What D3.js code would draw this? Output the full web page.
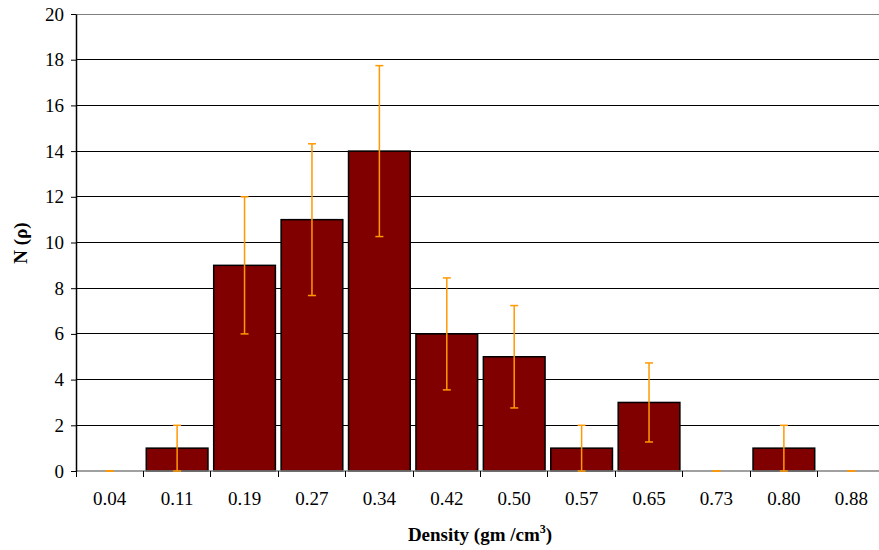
<!DOCTYPE html>
<html><head><meta charset="utf-8">
<script src="https://cdn.jsdelivr.net/npm/d3@7"></script>
<style>body{margin:0;background:#fff}svg{display:block}</style>
</head><body>
<svg id="c" width="879" height="550"></svg>
<script>
const categories = ["0.04","0.11","0.19","0.27","0.34","0.42","0.50","0.57","0.65","0.73","0.80","0.88"];
const counts = [0,1,9,11,14,6,5,1,3,0,1,0];
const errors = [0,1,3,3.32,3.74,2.45,2.24,1,1.73,0,1,0];
const yTicks = [0,2,4,6,8,10,12,14,16,18,20];

(function(){
const svg = d3.select("#c");
const mLeft = 76, mRight = 885, mTop = 14, mBottom = 471;
const font = "Liberation Serif, Times New Roman, serif";
const fs = 19;

const x = d3.scaleBand().domain(categories).range([mLeft, mRight]).paddingInner(0.085).paddingOuter(0.0425);
const xt = d3.scaleBand().domain(categories).range([mLeft, mRight]);
const y = d3.scaleLinear().domain([0, 20]).range([mBottom, mTop]);

// gridlines
svg.append("g").selectAll("line").data(yTicks.filter(d => d > 0)).join("line")
  .attr("x1", mLeft).attr("x2", mRight).attr("y1", d => y(d)).attr("y2", d => y(d))
  .attr("stroke", d => d === 20 ? "#808080" : "#000").attr("stroke-width", 1).attr("shape-rendering","crispEdges");

// bars
const data = categories.map((c, i) => ({c, v: counts[i], e: errors[i]}));
svg.append("g").selectAll("rect").data(data.filter(d => d.v > 0)).join("rect")
  .attr("x", d => x(d.c)).attr("width", x.bandwidth())
  .attr("y", d => y(d.v)).attr("height", d => y(0) - y(d.v))
  .attr("fill", "#800000").attr("stroke", "#000").attr("stroke-width", 1.5);

// x axis baseline
svg.append("line").attr("x1", mLeft).attr("x2", mRight).attr("y1", mBottom).attr("y2", mBottom)
  .attr("stroke", "#808080").attr("stroke-width", 1.5);

// x ticks at band edges
const edges = categories.map(c => xt(c)).concat([mRight]);
svg.append("g").selectAll("line").data(edges).join("line")
  .attr("x1", d => d).attr("x2", d => d).attr("y1", mBottom).attr("y2", mBottom + 6)
  .attr("stroke", "#000").attr("stroke-width", 1).attr("shape-rendering","crispEdges");

// error bars
const eb = svg.append("g").attr("stroke", "#FF9900").attr("stroke-width", 1.5);
data.forEach(d => {
  const cx = x(d.c) + x.bandwidth() / 2;
  const lo = Math.max(0, d.v - d.e), hi = d.v + d.e;
  eb.append("line").attr("x1", cx).attr("x2", cx).attr("y1", y(lo)).attr("y2", y(hi));
  eb.append("line").attr("x1", cx - 4).attr("x2", cx + 4).attr("y1", y(hi)).attr("y2", y(hi));
  eb.append("line").attr("x1", cx - 4).attr("x2", cx + 4).attr("y1", y(lo)).attr("y2", y(lo));
});

// y axis
const yAxis = d3.axisLeft(y).tickValues(yTicks).tickSize(5).tickSizeOuter(0).tickPadding(7);
const ya = svg.append("g").attr("transform", `translate(${mLeft},0)`).call(yAxis)
  .attr("font-family", font).attr("font-size", fs);
ya.select(".domain").attr("stroke", "#000").attr("stroke-width", 1.5);
ya.selectAll("text").attr("fill", "#000");

// x tick labels
svg.append("g").selectAll("text").data(categories).join("text")
  .attr("x", d => xt(d) + xt.bandwidth() / 2).attr("y", 505)
  .attr("text-anchor", "middle").attr("font-family", font).attr("font-size", fs).attr("fill", "#000")
  .text(d => d);

// axis titles
const xl = svg.append("text").attr("x", 480).attr("y", 541).attr("text-anchor", "middle")
  .attr("font-family", font).attr("font-size", fs).attr("font-weight", "bold");
xl.append("tspan").text("Density (gm /cm");
xl.append("tspan").attr("font-size", 12).attr("dy", -8).text("3");
xl.append("tspan").attr("dy", 8).text(")");

svg.append("text").attr("transform", "translate(27,243) rotate(-90)").attr("text-anchor", "middle")
  .attr("font-family", font).attr("font-size", fs).attr("font-weight", "bold").text("N (ρ)");
})();
</script>
</body></html>
